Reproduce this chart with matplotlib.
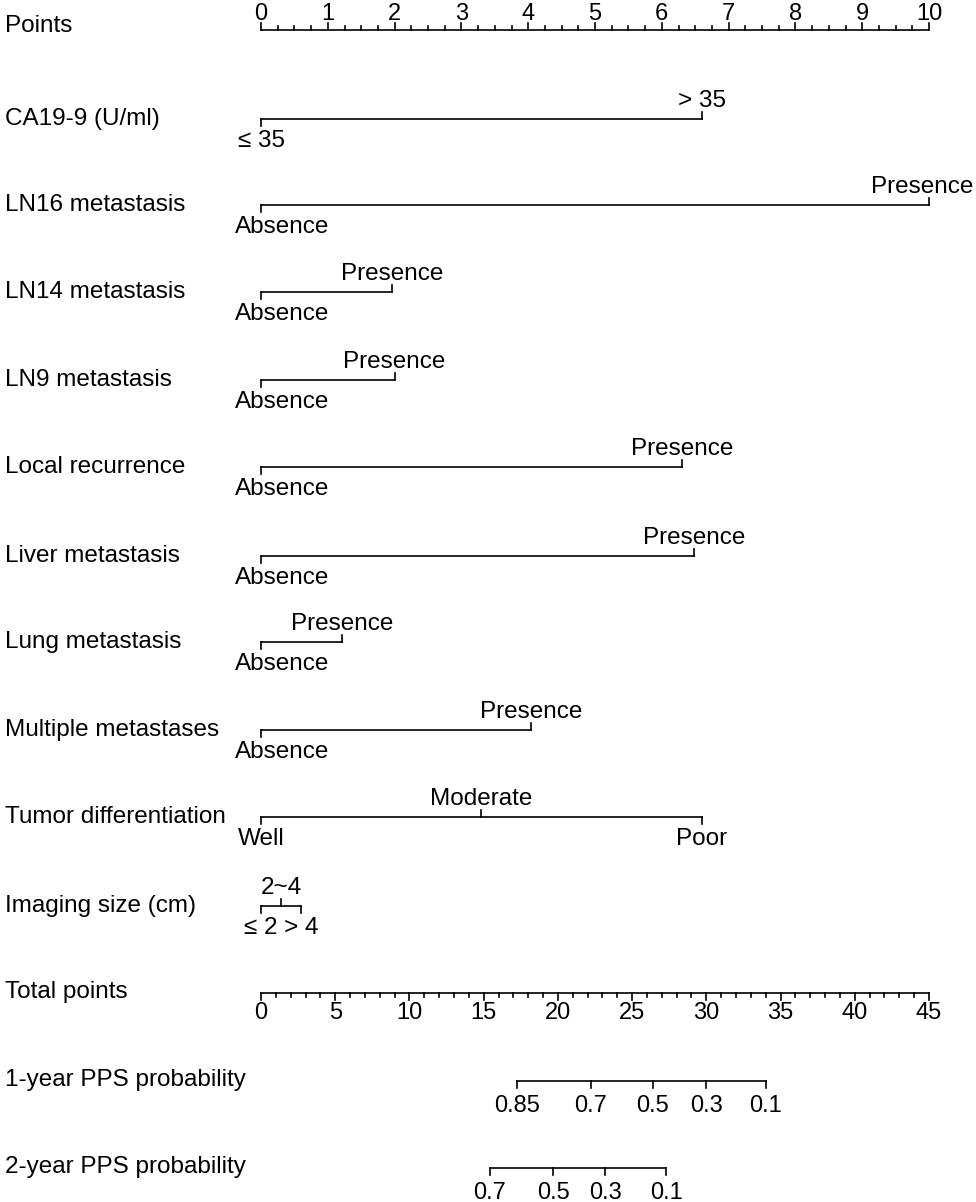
import numpy as np
import matplotlib.pyplot as plt

# nomogram content
variables = ["CA19-9 (U/ml)", "LN16 metastasis", "LN14 metastasis", "LN9 metastasis",
             "Local recurrence", "Liver metastasis", "Lung metastasis",
             "Multiple metastases", "Tumor differentiation", "Imaging size (cm)"]
levels = [["\u2264 35", "> 35"],
          ["Absence", "Presence"],
          ["Absence", "Presence"],
          ["Absence", "Presence"],
          ["Absence", "Presence"],
          ["Absence", "Presence"],
          ["Absence", "Presence"],
          ["Absence", "Presence"],
          ["Well", "Moderate", "Poor"],
          ["\u2264 2", "2~4", "> 4"]]
level_points = [[0, 6.6], [0, 10.0], [0, 1.96], [0, 2.0], [0, 6.3], [0, 6.48],
                [0, 1.22], [0, 4.04], [0, 3.3, 6.6], [0, 0.3, 0.6]]

points_ticks = np.arange(0, 11, 1)
total_ticks = np.arange(0, 50, 5)
total_max = 45

prob1_labels = ["0.85", "0.7", "0.5", "0.3", "0.1"]
prob1_total = [17.25, 22.2, 26.4, 30.0, 34.0]
prob2_labels = ["0.7", "0.5", "0.3", "0.1"]
prob2_total = [15.4, 19.7, 23.2, 27.3]

# layout (pixel rows, x in points units)
x0, scale = 261, 66.8
row_y = [119, 205, 292, 380, 467, 556, 642, 730, 817, 906]
lab_x = (5 - x0) / scale
left_edge, right_edge = 235, 973  # px, level labels are kept inside these

FONT = "Liberation Sans"
fs = 17.5
nfs = 17
lw = 1.2

fig = plt.figure(figsize=(9.76, 12.02), dpi=100)
ax = fig.add_axes([0, 0, 1, 1])
ax.set_xlim(-x0 / scale, (976 - x0) / scale)
ax.set_ylim(1202, 0)
ax.axis("off")
renderer = fig.canvas.get_renderer()


def row_label(y, txt):
    ax.text(lab_x, y, txt, ha="left", va="center", fontsize=fs, family=FONT)


def level_label(x, y, txt):
    t = ax.text(x, y, txt, ha="center", va="baseline", fontsize=fs, family=FONT)
    bb = t.get_window_extent(renderer)
    if bb.x1 > right_edge:
        t.set_x(x - (bb.x1 - right_edge) / scale)
    elif bb.x0 < left_edge:
        t.set_x(x + (left_edge - bb.x0) / scale)


# Points axis
yp = 30
row_label(26, "Points")
ax.plot([0, 10], [yp, yp], color="black", lw=lw)
for t in np.arange(0, 10.01, 0.25):
    major = abs(t - round(t)) < 1e-9
    ax.plot([t, t], [yp, yp - (7 if major else 4)], color="black", lw=lw)
for t in points_ticks:
    ax.text(t, 20, str(t), ha="center", va="baseline", fontsize=nfs, family=FONT)

# variable rows
for name, labs, pts, y in zip(variables, levels, level_points, row_y):
    row_label(y, name)
    ax.plot([min(pts), max(pts)], [y, y], color="black", lw=lw)
    for i, (lab, p) in enumerate(zip(labs, pts)):
        if i % 2 == 0:
            ax.plot([p, p], [y, y + 7], color="black", lw=lw)
            level_label(p, y + 28, lab)
        else:
            ax.plot([p, p], [y, y - 7], color="black", lw=lw)
            level_label(p, y - 12, lab)

# Total points axis
k = 10 / total_max
yt = 993
row_label(992, "Total points")
ax.plot([0, total_max * k], [yt, yt], color="black", lw=lw)
for t in range(0, total_max + 1):
    ax.plot([t * k, t * k], [yt, yt + (7 if t % 5 == 0 else 4)], color="black", lw=lw)
for t in total_ticks:
    ax.text(t * k, 1019, str(t), ha="center", va="baseline", fontsize=nfs, family=FONT)


def prob_axis(y, label, labs, tot):
    row_label(y - 1, label)
    xs = [v * k for v in tot]
    ax.plot([min(xs), max(xs)], [y, y], color="black", lw=lw)
    for lab, xx in zip(labs, xs):
        ax.plot([xx, xx], [y, y + 7], color="black", lw=lw)
        ax.text(xx, y + 31, lab, ha="center", va="baseline", fontsize=nfs, family=FONT)


prob_axis(1081, "1-year PPS probability", prob1_labels, prob1_total)
prob_axis(1168, "2-year PPS probability", prob2_labels, prob2_total)

fig.savefig("out.png", dpi=100)
